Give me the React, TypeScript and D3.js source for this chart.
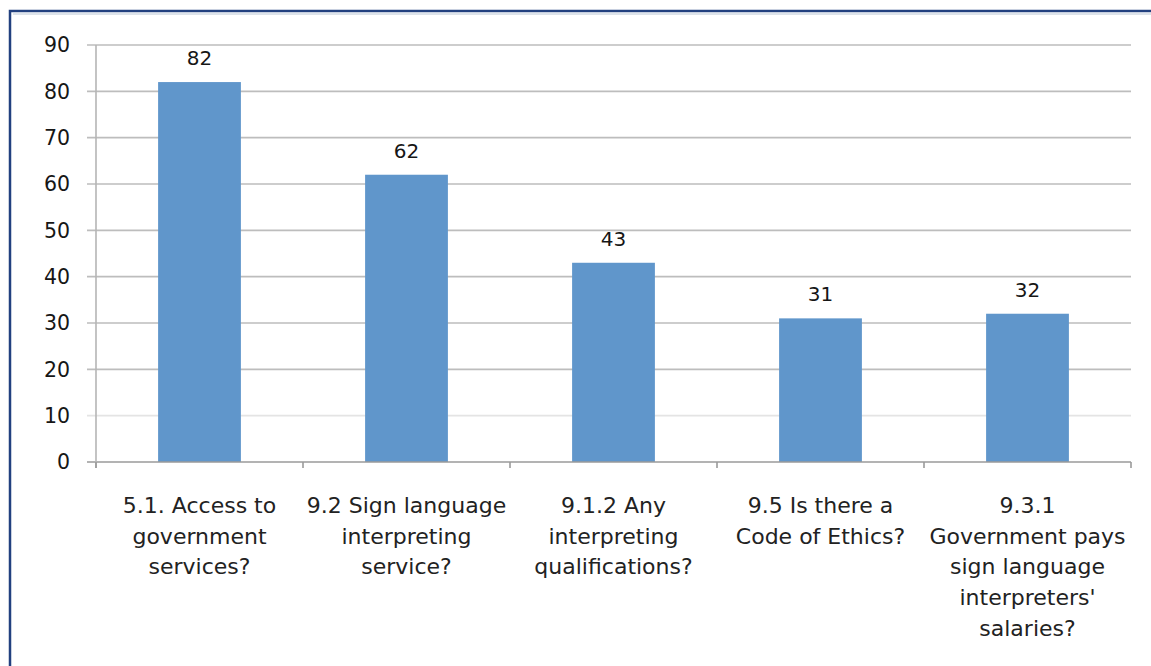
import React from "react";
import * as d3 from "d3";

const categories: string[][] = [
  ["5.1. Access to", "government", "services?"],
  ["9.2 Sign language", "interpreting", "service?"],
  ["9.1.2 Any", "interpreting", "qualifications?"],
  ["9.5 Is there a", "Code of Ethics?"],
  ["9.3.1", "Government pays", "sign language", "interpreters'", "salaries?"],
];
const values: number[] = [82, 62, 43, 31, 32];
const yTicks: number[] = [0, 10, 20, 30, 40, 50, 60, 70, 80, 90];

const W = 1151;
const H = 666;
const left = 96;
const right = 1131;
const top = 45;
const bottom = 462;
const font = "'DejaVu Sans', Verdana, sans-serif";

export default function App() {
  const keys = categories.map((_, i) => String(i));
  const x = d3.scaleBand<string>().domain(keys).range([left, right]).paddingInner(0.6).paddingOuter(0.3);
  const y = d3.scaleLinear().domain([0, 90]).range([bottom, top]);
  const step = x.step();
  const tickXs = d3.range(categories.length + 1).map((i) => left + i * step);

  return (
    <svg width={W} height={H} style={{ position: "absolute", left: 0, top: 0, background: "#fff" }}>
      <rect x={10} y={11} width={1170} height={700} fill="#fff" stroke="#22407f" strokeWidth={2.5} />
      <line x1={13} y1={14} x2={1151} y2={14} stroke="#dde3ea" strokeWidth={2} />
      {yTicks.map((t) => (
        <g key={t}>
          {t > 0 && (
            <line x1={left - 9} x2={right} y1={y(t)} y2={y(t)} stroke={t === 10 ? "#e4e4e4" : "#bdbdbd"} strokeWidth={1.6} />
          )}
          <text x={70} y={y(t)} dy="0.36em" textAnchor="end" fontFamily={font} fontSize={20.5} fill="#161616">
            {t}
          </text>
        </g>
      ))}
      {values.map((v, i) => (
        <g key={i}>
          <rect x={x(String(i))} y={y(v)} width={x.bandwidth()} height={bottom - y(v)} fill="#6096cb" />
          <text x={x(String(i))! + x.bandwidth() / 2} y={y(v) - 17} textAnchor="middle" fontFamily={font} fontSize={20} fill="#161616">
            {v}
          </text>
        </g>
      ))}
      <line x1={left - 9} x2={right} y1={bottom} y2={bottom} stroke="#9a9a9a" strokeWidth={1.6} />
      <line x1={left} x2={left} y1={top} y2={bottom + 6} stroke="#b5b5b5" strokeWidth={1.6} />
      {tickXs.map((tx, i) => (
        <line key={i} x1={tx} x2={tx} y1={bottom} y2={bottom + 6} stroke="#9a9a9a" strokeWidth={1.6} />
      ))}
      {categories.map((lines, i) => (
        <text key={i} x={x(String(i))! + x.bandwidth() / 2} y={513} textAnchor="middle" fontFamily={font} fontSize={22} fill="#222">
          {lines.map((l, j) => (
            <tspan key={j} x={x(String(i))! + x.bandwidth() / 2} dy={j === 0 ? 0 : 30.7}>
              {l}
            </tspan>
          ))}
        </text>
      ))}
    </svg>
  );
}
